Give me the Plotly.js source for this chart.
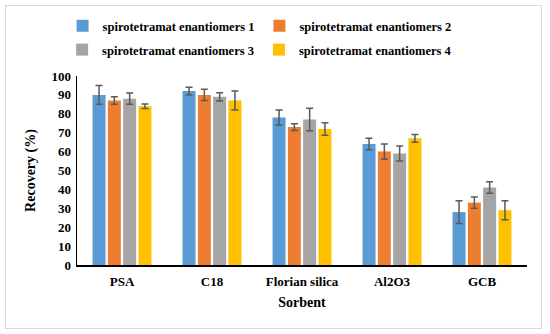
<!DOCTYPE html>
<html>
<head>
<meta charset="utf-8">
<script src="https://cdn.plot.ly/plotly-3.0.1.min.js"></script>
<style>
  html, body { margin: 0; padding: 0; background: #fff; }
  #wrap { position: relative; width: 550px; height: 334px; }
  #chart { width: 550px; height: 334px; }
  #frame { position: absolute; left: 5px; top: 5px; width: 537px; height: 324px;
           border: 1.5px solid #D9D9D9; pointer-events: none; box-sizing: border-box; }
</style>
</head>
<body>
<div id="wrap">
  <div id="chart"></div>
  <div id="frame"></div>
</div>
<script>
const categories = ["PSA", "C18", "Florian silica", "Al2O3", "GCB"];
const seriesNames = ["spirotetramat enantiomers 1", "spirotetramat enantiomers 2",
                     "spirotetramat enantiomers 3", "spirotetramat enantiomers 4"];
const values1 = [90, 92, 78, 64, 28];
const values2 = [87, 90, 73, 60, 33];
const values3 = [88, 89, 77, 59, 41];
const values4 = [84, 87, 72, 67, 29];
const errors1 = [5, 2, 4, 3, 6];
const errors2 = [2, 3, 1.8, 4, 3];
const errors3 = [3, 2.2, 6, 4, 3];
const errors4 = [1.2, 5, 3.3, 2, 5];
const yTicks = [0, 10, 20, 30, 40, 50, 60, 70, 80, 90, 100];
const colors = ["#5B9BD5", "#ED7D31", "#A5A5A5", "#FFC000"];

const allValues = [values1, values2, values3, values4];
const allErrors = [errors1, errors2, errors3, errors4];
const FONT = "'Liberation Serif', 'Times New Roman', serif";

const traces = allValues.map((v, i) => ({
  type: "bar",
  name: seriesNames[i],
  x: categories,
  y: v,
  marker: { color: colors[i] },
  error_y: { type: "data", array: allErrors[i], visible: true,
             color: "#595959", thickness: 1.5, width: 3.5 },
  legend: i < 2 ? "legend" : "legend2"
}));

const legendCommon = {
  orientation: "h",
  xref: "container", yref: "container",
  xanchor: "center", yanchor: "middle",
  x: 0.472,
  font: { family: FONT, size: 12.5, color: "#000", weight: "bold" },
  bgcolor: "rgba(0,0,0,0)",
  itemwidth: 30,
  traceorder: "normal"
};

const layout = {
  width: 550, height: 334,
  font: { family: FONT, color: "#000", weight: "bold" },
  margin: { l: 77, r: 23, t: 76, b: 69 },
  paper_bgcolor: "#fff", plot_bgcolor: "#fff",
  barmode: "group",
  bargap: 0.32,
  bargroupgap: 0.15,
  showlegend: true,
  legend: Object.assign({}, legendCommon, { y: 1 - 26 / 334 }),
  legend2: Object.assign({}, legendCommon, { y: 1 - 50 / 334 }),
  xaxis: {
    showline: true, linecolor: "#000", linewidth: 1.5,
    ticks: "", showgrid: false, zeroline: false,
    ticklabelstandoff: 4,
    tickfont: { family: FONT, size: 13, color: "#000", weight: "bold" },
    title: { text: "Sorbent", standoff: 9,
             font: { family: FONT, size: 14, color: "#000", weight: "bold" } }
  },
  yaxis: {
    range: [0, 100],
    tickvals: yTicks,
    ticktext: yTicks.map(String),
    showline: true, linecolor: "#000", linewidth: 1.5,
    ticks: "", showgrid: false, zeroline: false,
    ticklabelstandoff: 2,
    tickfont: { family: FONT, size: 13, color: "#000", weight: "bold" },
    title: { text: "Recovery (%)", standoff: 12,
             font: { family: FONT, size: 14, color: "#000", weight: "bold" } }
  }
};

Plotly.newPlot("chart", traces, layout, { displayModeBar: false, staticPlot: true });
</script>
</body>
</html>
